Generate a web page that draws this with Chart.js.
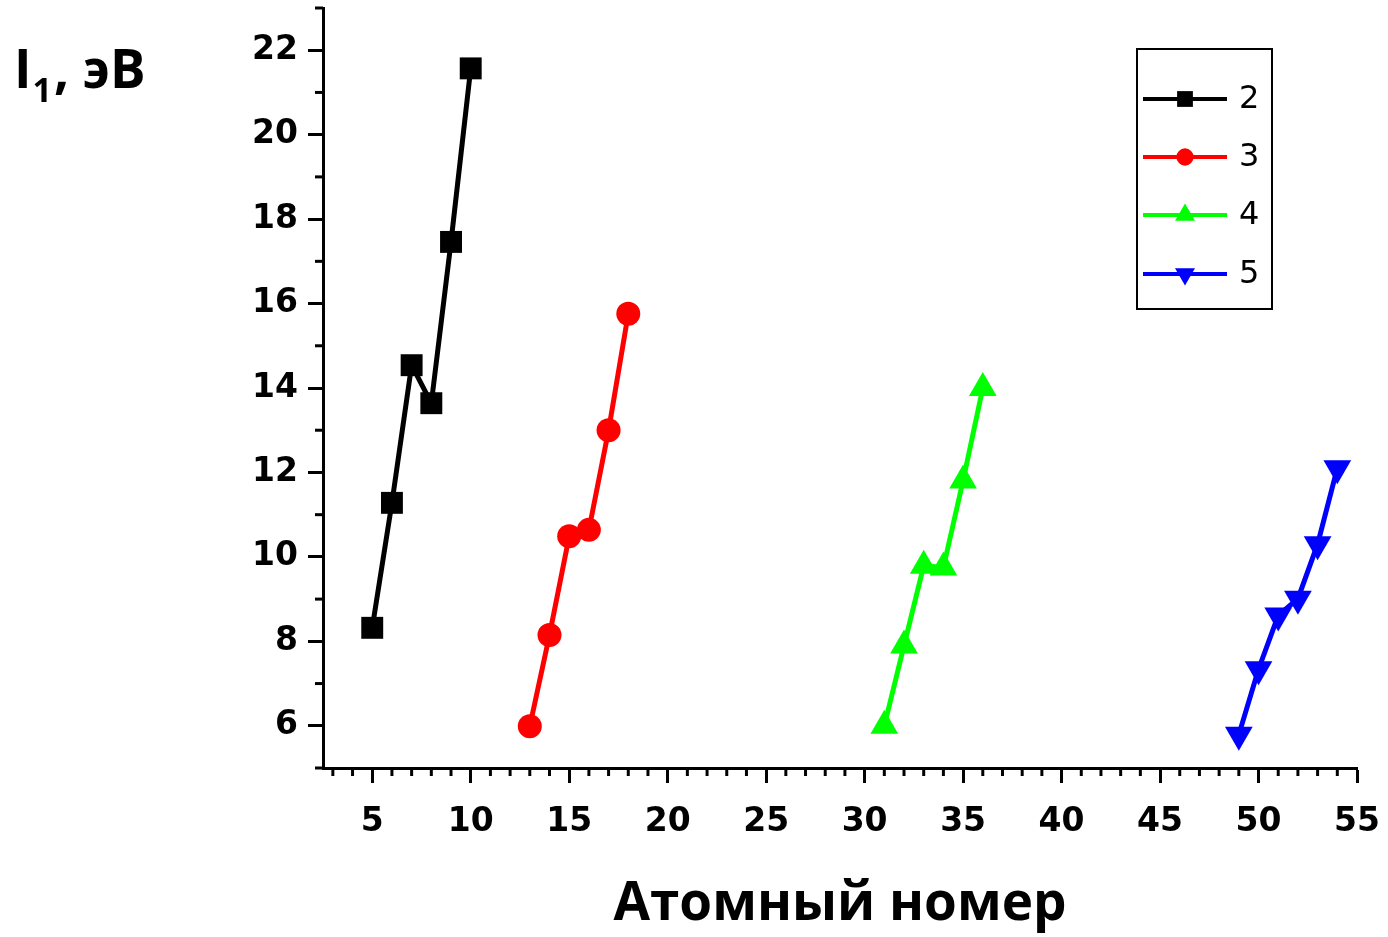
<!DOCTYPE html>
<html>
<head>
<meta charset="utf-8">
<script src="https://cdn.jsdelivr.net/npm/chart.js@4"></script>
<style>
  html, body { margin: 0; padding: 0; background: #fff; }
  #wrap { width: 1388px; height: 937px; }
</style>
</head>
<body>
<div id="wrap"><canvas id="chart" width="1388" height="937"></canvas></div>
<script>
// Atomic numbers and first ionization energies, periods 2..5
const period2Z = [5, 6, 7, 8, 9, 10];
const period2I = [8.32, 11.28, 14.54, 13.64, 17.46, 21.57];
const period3Z = [13, 14, 15, 16, 17, 18];
const period3I = [5.99, 8.15, 10.49, 10.64, 13.0, 15.76];
const period4Z = [31, 32, 33, 34, 35, 36];
const period4I = [6.0, 7.9, 9.79, 9.75, 11.81, 14.0];
const period5Z = [49, 50, 51, 52, 53, 54];
const period5I = [5.79, 7.34, 8.61, 9.01, 10.3, 12.1];

const seriesLabels = ['2', '3', '4', '5'];
const xTickValues = [5, 10, 15, 20, 25, 30, 35, 40, 45, 50, 55];
const yTickValues = [6, 8, 10, 12, 14, 16, 18, 20, 22];

const toPoints = (xs, ys) => xs.map((x, i) => ({ x, y: ys[i] }));

function makeSet(label, xs, ys, color, style, radius, rotation) {
  return {
    label,
    data: toPoints(xs, ys),
    borderColor: color,
    backgroundColor: color,
    borderWidth: 5,
    pointStyle: style,
    pointRadius: radius,
    pointRotation: rotation || 0,
    pointBorderWidth: 0,
    pointBackgroundColor: color,
    showLine: true,
    tension: 0,
    legendRadius: radius * 0.72
  };
}

// drop the label overhang padding so the plot box sits where we put it
function fixBox(scale) {
  scale.paddingTop = 0;
  scale.paddingBottom = 0;
  scale.paddingLeft = 0;
  scale.paddingRight = 0;
}

// minor ticks every 1 unit on both axes
const minorTicks = {
  id: 'minorTicks',
  afterDraw(chart) {
    const ctx = chart.ctx;
    const xs = chart.scales.x, ys = chart.scales.y;
    const area = chart.chartArea;
    ctx.save();
    ctx.strokeStyle = '#000';
    ctx.lineWidth = 3;
    for (let v = 3; v <= 55; v++) {
      if (v % 5 === 0) continue;
      const px = xs.getPixelForValue(v);
      ctx.beginPath();
      ctx.moveTo(px, area.bottom);
      ctx.lineTo(px, area.bottom + 8);
      ctx.stroke();
    }
    for (let v = 5; v <= 23; v++) {
      if (v % 2 === 0) continue;
      const py = ys.getPixelForValue(v);
      ctx.beginPath();
      ctx.moveTo(area.left, py);
      ctx.lineTo(area.left - 8, py);
      ctx.stroke();
    }
    ctx.restore();
  }
};

// axis titles
const axisTitles = {
  id: 'axisTitles',
  afterDraw(chart) {
    const ctx = chart.ctx;
    ctx.save();
    ctx.fillStyle = '#000';
    ctx.textBaseline = 'alphabetic';
    ctx.textAlign = 'left';
    ctx.font = 'bold 53px "Open Sans"';
    ctx.fillText('I', 14, 88);
    const wI = ctx.measureText('I').width;
    ctx.font = 'bold 34px "Open Sans"';
    ctx.fillText('1', 14 + wI + 1, 102);
    const w1 = ctx.measureText('1').width;
    ctx.font = 'bold 53px "Open Sans"';
    ctx.fillText(', эВ', 14 + wI + w1 + 3, 88);

    ctx.textAlign = 'center';
    ctx.font = 'bold 53px "Open Sans"';
    ctx.fillText('Атомный номер', 840, 920);
    ctx.restore();
  }
};

// boxed legend in the upper right
const boxLegend = {
  id: 'boxLegend',
  afterDraw(chart) {
    const ctx = chart.ctx;
    const left = 1137, top = 49, right = 1272, bottom = 309;
    ctx.save();
    ctx.strokeStyle = '#000';
    ctx.lineWidth = 2;
    ctx.strokeRect(left, top, right - left, bottom - top);
    const rowY = [99, 157, 215, 274];
    chart.data.datasets.forEach((ds, i) => {
      const y = rowY[i];
      ctx.strokeStyle = ds.borderColor;
      ctx.lineWidth = 4;
      ctx.beginPath();
      ctx.moveTo(1143, y);
      ctx.lineTo(1227, y);
      ctx.stroke();
      ctx.fillStyle = ds.backgroundColor;
      Chart.helpers.drawPoint(ctx, {
        pointStyle: ds.pointStyle,
        radius: ds.legendRadius,
        rotation: ds.pointRotation,
        borderWidth: 0
      }, 1185, y);
      ctx.fillStyle = '#000';
      ctx.font = '32px "DejaVu Sans"';
      ctx.textAlign = 'left';
      ctx.textBaseline = 'middle';
      ctx.fillText(ds.label, 1239, y + 1);
    });
    ctx.restore();
  }
};

new Chart(document.getElementById('chart'), {
  type: 'scatter',
  data: {
    datasets: [
      makeSet(seriesLabels[0], period2Z, period2I, '#000000', 'rect', 15.5),
      makeSet(seriesLabels[1], period3Z, period3I, '#ff0000', 'circle', 12),
      makeSet(seriesLabels[2], period4Z, period4I, '#00ff00', 'triangle', 16),
      makeSet(seriesLabels[3], period5Z, period5I, '#0000ff', 'triangle', 16, 180)
    ]
  },
  options: {
    responsive: false,
    animation: false,
    layout: { autoPadding: false, padding: { top: 8, right: 31, left: 0, bottom: 0 } },
    plugins: {
      legend: { display: false },
      tooltip: { enabled: false }
    },
    scales: {
      x: {
        type: 'linear',
        min: 2.5,
        max: 55,
        afterFit(scale) { scale.height = 169; fixBox(scale); },
        afterBuildTicks(scale) { scale.ticks = xTickValues.map(v => ({ value: v })); },
        grid: { drawOnChartArea: false, tickLength: 15, tickWidth: 3, tickColor: '#000' },
        border: { display: true, color: '#000', width: 3 },
        ticks: {
          color: '#000',
          padding: 20,
          maxRotation: 0,
          autoSkip: false,
          font: { family: 'DejaVu Sans', weight: 'bold', size: 33 }
        }
      },
      y: {
        type: 'linear',
        min: 5,
        max: 23,
        afterFit(scale) { scale.width = 323; fixBox(scale); },
        afterBuildTicks(scale) { scale.ticks = yTickValues.map(v => ({ value: v })); },
        grid: { drawOnChartArea: false, tickLength: 15, tickWidth: 3, tickColor: '#000' },
        border: { display: true, color: '#000', width: 3 },
        ticks: {
          color: '#000',
          padding: 10,
          autoSkip: false,
          font: { family: 'DejaVu Sans', weight: 'bold', size: 33 }
        }
      }
    }
  },
  plugins: [minorTicks, axisTitles, boxLegend]
});
</script>
</body>
</html>
